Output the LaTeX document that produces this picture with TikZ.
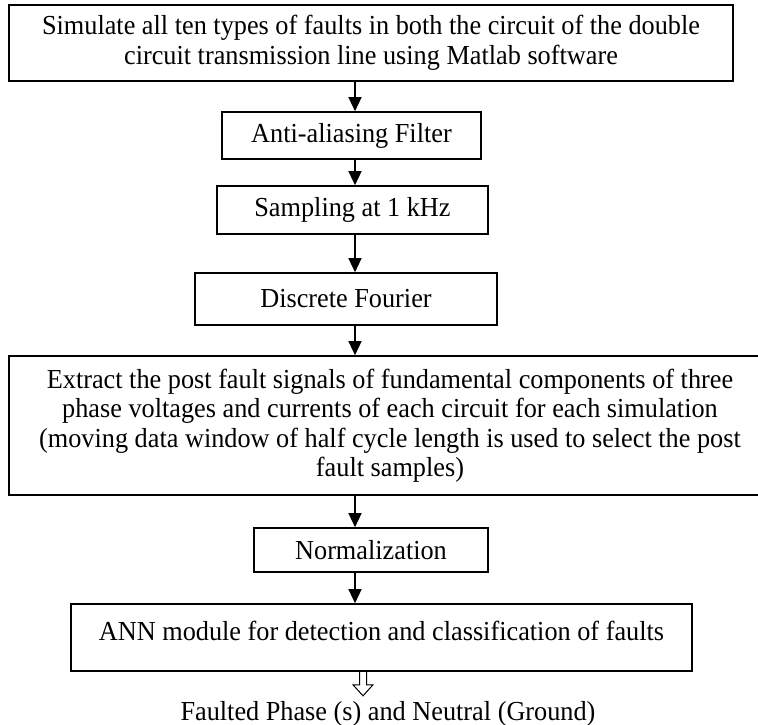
\documentclass[tikz,border=0pt]{standalone}
\usepackage{fontspec}
\setmainfont[FakeStretch=0.955]{Liberation Serif}
\usetikzlibrary{arrows.meta}

\begin{document}
\begin{tikzpicture}[x=1pt, y=-1pt,
    every node/.style = {font=\fontsize{27.5}{29.5}\selectfont, inner sep=0pt},
    stepbox/.style = {draw, line width=1.6pt, align=center},
    flow/.style = {line width=1.3pt, -{Triangle[length=14pt,width=13pt]}}]
    \useasboundingbox (0, 0) rectangle (758, 725);
    \coordinate (spine) at (355, 0);
    \coordinate (outx) at (363, 0);
    \node[stepbox, minimum width=724pt, minimum height=76pt] (sim) at (371, 43)
        {Simulate all ten types of faults in both the circuit of the double\\
         circuit transmission line using Matlab software};
    \node[stepbox, minimum width=259pt, minimum height=47pt] (anti) at (351.5, 135.5)
        {Anti-aliasing Filter};
    \node[stepbox, minimum width=271pt, minimum height=48pt] (samp) at (352.5, 210)
        {Sampling at 1 kHz};
    \node[stepbox, minimum width=302pt, minimum height=52pt] (dft) at (346, 299)
        {Discrete Fourier};
    \node[stepbox, minimum width=762pt, minimum height=139pt] (extr) at (390, 425.5)
        {Extract the post fault signals of fundamental components of three\\
         phase voltages and currents of each circuit for each simulation\\
         (moving data window of half cycle length is used to select the post\\
         fault samples)};
    \node[stepbox, minimum width=234pt, minimum height=44pt] (norm) at (371, 550)
        {Normalization};
    \node[stepbox, minimum width=621pt, minimum height=67pt, text depth=14pt] (ann) at (381.5, 637.5)
        {ANN module for detection and classification of faults};
    \node[anchor=base] (out) at (388, 720) {Faulted Phase (s) and Neutral (Ground)};
    \draw[flow] (sim.south -| spine) -- (anti.north -| spine);
    \draw[flow] (anti.south -| spine) -- (samp.north -| spine);
    \draw[flow] (samp.south -| spine) -- (dft.north -| spine);
    \draw[flow] (dft.south -| spine) -- (extr.north -| spine);
    \draw[flow] (extr.south -| spine) -- (norm.north -| spine);
    \draw[flow] (norm.south -| spine) -- (ann.north -| spine);
    % hollow output arrow
    \draw[line width=1pt] (ann.south -| outx) ++(-3.5, 0) -- ++(0, 13) -- ++(-6.5, 0)
        -- ++(10, 11) -- ++(10, -11) -- ++(-6.5, 0) -- ++(0, -13);
\end{tikzpicture}
\end{document}
